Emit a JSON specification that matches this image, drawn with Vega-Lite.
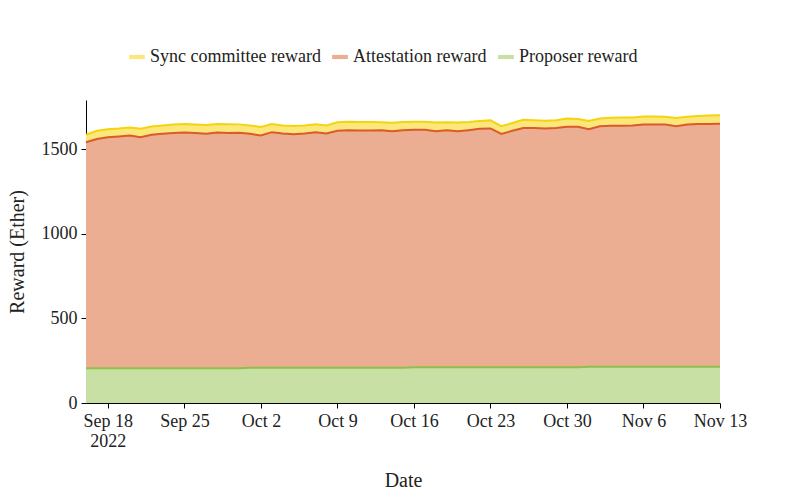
{
  "$schema": "https://vega.github.io/schema/vega-lite/v6.json",
  "width": 634,
  "height": 303,
  "autosize": "none",
  "padding": {"left": 86, "top": 100, "right": 80, "bottom": 97},
  "data": {"values": [
    {"date":"2022-09-16","sync":45,"att":1335,"prop":205},
    {"date":"2022-09-17","sync":48,"att":1355,"prop":205},
    {"date":"2022-09-18","sync":47,"att":1365,"prop":205},
    {"date":"2022-09-19","sync":46,"att":1370,"prop":205},
    {"date":"2022-09-20","sync":48,"att":1375,"prop":205},
    {"date":"2022-09-21","sync":50,"att":1365,"prop":205},
    {"date":"2022-09-22","sync":48,"att":1380,"prop":205},
    {"date":"2022-09-23","sync":50,"att":1385,"prop":205},
    {"date":"2022-09-24","sync":50,"att":1390,"prop":205},
    {"date":"2022-09-25","sync":50,"att":1393,"prop":205},
    {"date":"2022-09-26","sync":50,"att":1390,"prop":205},
    {"date":"2022-09-27","sync":52,"att":1385,"prop":205},
    {"date":"2022-09-28","sync":50,"att":1393,"prop":205},
    {"date":"2022-09-29","sync":52,"att":1390,"prop":205},
    {"date":"2022-09-30","sync":50,"att":1391,"prop":205},
    {"date":"2022-10-01","sync":50,"att":1382,"prop":208},
    {"date":"2022-10-02","sync":50,"att":1372,"prop":208},
    {"date":"2022-10-03","sync":48,"att":1392,"prop":208},
    {"date":"2022-10-04","sync":48,"att":1384,"prop":208},
    {"date":"2022-10-05","sync":48,"att":1380,"prop":208},
    {"date":"2022-10-06","sync":48,"att":1384,"prop":208},
    {"date":"2022-10-07","sync":47,"att":1392,"prop":208},
    {"date":"2022-10-08","sync":48,"att":1384,"prop":208},
    {"date":"2022-10-09","sync":50,"att":1400,"prop":208},
    {"date":"2022-10-10","sync":50,"att":1404,"prop":208},
    {"date":"2022-10-11","sync":50,"att":1402,"prop":208},
    {"date":"2022-10-12","sync":50,"att":1402,"prop":208},
    {"date":"2022-10-13","sync":46,"att":1404,"prop":208},
    {"date":"2022-10-14","sync":50,"att":1397,"prop":208},
    {"date":"2022-10-15","sync":48,"att":1404,"prop":208},
    {"date":"2022-10-16","sync":48,"att":1403,"prop":211},
    {"date":"2022-10-17","sync":48,"att":1403,"prop":211},
    {"date":"2022-10-18","sync":52,"att":1394,"prop":211},
    {"date":"2022-10-19","sync":46,"att":1401,"prop":211},
    {"date":"2022-10-20","sync":52,"att":1394,"prop":211},
    {"date":"2022-10-21","sync":48,"att":1401,"prop":211},
    {"date":"2022-10-22","sync":46,"att":1409,"prop":211},
    {"date":"2022-10-23","sync":48,"att":1411,"prop":211},
    {"date":"2022-10-24","sync":45,"att":1379,"prop":211},
    {"date":"2022-10-25","sync":46,"att":1397,"prop":211},
    {"date":"2022-10-26","sync":48,"att":1414,"prop":211},
    {"date":"2022-10-27","sync":46,"att":1414,"prop":211},
    {"date":"2022-10-28","sync":46,"att":1411,"prop":211},
    {"date":"2022-10-29","sync":45,"att":1414,"prop":211},
    {"date":"2022-10-30","sync":48,"att":1421,"prop":211},
    {"date":"2022-10-31","sync":46,"att":1421,"prop":211},
    {"date":"2022-11-01","sync":48,"att":1404,"prop":214},
    {"date":"2022-11-02","sync":46,"att":1421,"prop":214},
    {"date":"2022-11-03","sync":47,"att":1424,"prop":214},
    {"date":"2022-11-04","sync":48,"att":1424,"prop":214},
    {"date":"2022-11-05","sync":46,"att":1426,"prop":214},
    {"date":"2022-11-06","sync":48,"att":1431,"prop":214},
    {"date":"2022-11-07","sync":48,"att":1431,"prop":214},
    {"date":"2022-11-08","sync":46,"att":1431,"prop":214},
    {"date":"2022-11-09","sync":48,"att":1421,"prop":214},
    {"date":"2022-11-10","sync":46,"att":1431,"prop":214},
    {"date":"2022-11-11","sync":48,"att":1434,"prop":214},
    {"date":"2022-11-12","sync":50,"att":1434,"prop":214},
    {"date":"2022-11-13","sync":50,"att":1436,"prop":214}
  ]},
  "transform": [
    {"fold": ["sync", "att", "prop"], "as": ["key", "value"]},
    {"calculate": "datum.key == 'sync' ? 'Sync committee reward' : datum.key == 'att' ? 'Attestation reward' : 'Proposer reward'", "as": "Reward"},
    {"calculate": "datum.key == 'prop' ? 0 : datum.key == 'att' ? 1 : 2", "as": "rank"}
  ],
  "encoding": {
    "x": {
      "field": "date", "type": "temporal", "title": "Date",
      "scale": {"domain": ["2022-09-16T00:00:00", "2022-11-13T00:00:00"], "nice": false},
      "axis": {
        "values": ["2022-09-18T00:00:00", "2022-09-25T00:00:00", "2022-10-02T00:00:00", "2022-10-09T00:00:00", "2022-10-16T00:00:00", "2022-10-23T00:00:00", "2022-10-30T00:00:00", "2022-11-06T00:00:00", "2022-11-13T00:00:00"],
        "labelExpr": "datum.index == 0 ? [timeFormat(datum.value, '%b %-d'), '2022'] : timeFormat(datum.value, '%b %-d')",
        "labelFlush": false
      }
    },
    "y": {
      "field": "value", "type": "quantitative", "stack": "zero", "title": "Reward (Ether)",
      "scale": {"domain": [0, 1790], "nice": false},
      "axis": {"values": [0, 500, 1000, 1500], "format": "d"}
    },
    "order": {"field": "rank", "type": "quantitative"}
  },
  "layer": [
    {
      "mark": {"type": "area", "opacity": 1},
      "encoding": {
        "color": {
          "field": "Reward", "type": "nominal",
          "scale": {"domain": ["Sync committee reward", "Attestation reward", "Proposer reward"], "range": ["#fbe77c", "#ecae92", "#c9e0a5"]},
          "legend": {"title": null, "orient": "none", "legendX": 42, "legendY": -52, "direction": "horizontal", "symbolType": "M-1.5,-0.4H1.5V0.4H-1.5Z", "symbolSize": 110, "symbolStrokeWidth": 0, "labelFontSize": 18, "labelLimit": 0, "columnPadding": 10, "symbolOffset": 0}
        }
      }
    },
    {
      "mark": {"type": "line", "strokeWidth": 2},
      "encoding": {
        "stroke": {
          "field": "Reward", "type": "nominal",
          "scale": {"domain": ["Sync committee reward", "Attestation reward", "Proposer reward"], "range": ["#f4d40c", "#da5a28", "#8dc04c"]},
          "legend": null
        }
      }
    }
  ],
  "config": {
    "font": "Liberation Serif",
    "view": {"stroke": null},
    "axis": {"grid": false, "domainColor": "#000", "tickColor": "#000", "labelColor": "#222", "labelFontSize": 18, "titleFontSize": 20, "titleFontWeight": "normal", "titleColor": "#222", "labelPadding": 4},
    "axisX": {"titlePadding": 20},
    "axisY": {"titlePadding": 14},
    "legend": {"labelColor": "#222", "labelFont": "Liberation Serif"}
  }
}
